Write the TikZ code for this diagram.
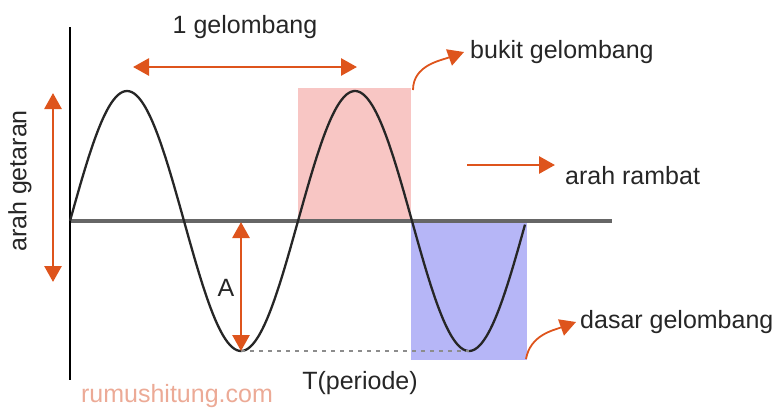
\documentclass[tikz,border=0pt]{standalone}
\usepackage{fontspec}
\setmainfont{Liberation Sans}
\usepackage{xcolor}
\usetikzlibrary{arrows.meta,positioning,calc}
\definecolor{waveorange}{RGB}{222,84,28}
\definecolor{crestpink}{RGB}{248,198,196}
\definecolor{troughblue}{RGB}{182,182,247}
\definecolor{markpink}{RGB}{236,170,150}

\begin{document}
\begin{tikzpicture}[
  x=1pt, y=-1pt,
  lbl/.style={font=\fontsize{25}{29}\selectfont,inner sep=0pt,text=black!85},
  oarrow/.style={-{Triangle[length=16pt,width=17pt]},line width=2.8pt,draw=waveorange},
  odouble/.style={{Triangle[length=16pt,width=17pt]}-{Triangle[length=16pt,width=17pt]},
                  line width=2.8pt,draw=waveorange},
]
\useasboundingbox (0,0) rectangle (783,410);

% shaded crest and trough
\fill[crestpink]  (298,88)  rectangle (411,221);
\fill[troughblue] (411,221) rectangle (527,360);

% axes
\coordinate (orig)  at (70,221);
\coordinate (ytop)  at (70,27);
\coordinate (ybot)  at (70,380);
\coordinate (xend)  at (612,221);
\draw[line width=3.2pt,black!60] (orig) -- (xend);
\draw[line width=2.4pt] (ytop) -- (ybot);

% the wave
\draw[line width=2.3pt,black!85] plot[domain=70:525,samples=200,smooth]
  (\x,{221-130*sin((\x-70)*1.578947)});

% amplitude and period
\coordinate (trough) at (241,351);
\coordinate (trough2) at (469,351);
\coordinate (ampTop) at (241,222);
\draw[dashed,line width=1.6pt,black!45,dash pattern=on 4pt off 5pt] (trough) -- (trough2);
\draw[odouble] (ampTop) -- (trough);
\node[lbl] (amp) at (226,288) {A};
\node[lbl] (period) at (360,383) {T(periode)};

% one wavelength
\coordinate (wlA) at (133,67);
\coordinate (wlB) at (357,67);
\draw[odouble] (wlA) -- (wlB);
\node[lbl] (wl) at (245,27) {1 gelombang};

% direction of vibration
\coordinate (vibA) at (53,93);
\coordinate (vibB) at (53,282);
\draw[odouble] (vibA) -- (vibB);
\node[lbl,rotate=90] (vib) at (20,181) {arah getaran};

% crest label
\node[lbl,anchor=west] (crest) at (470,52) {bukit gelombang};
\coordinate (crestFrom) at (413,90);
\draw[oarrow,line width=1.8pt] (crestFrom) to[out=90,in=200] ($(crest.west)+(-6,0)$);

% propagation
\node[lbl,anchor=west] (prop) at (565,176) {arah rambat};
\coordinate (propFrom) at (467,165);
\draw[oarrow] (propFrom) -- (555,165);

% trough label
\node[lbl,anchor=west] (troughlbl) at (580,322) {dasar gelombang};
\coordinate (troughFrom) at (526,359);
\draw[oarrow,line width=1.8pt] (troughFrom) to[out=80,in=200] ($(troughlbl.west)+(-4,0)$);

\node[lbl,text=markpink] (site) at (177,396) {rumushitung.com};
\end{tikzpicture}
\end{document}
